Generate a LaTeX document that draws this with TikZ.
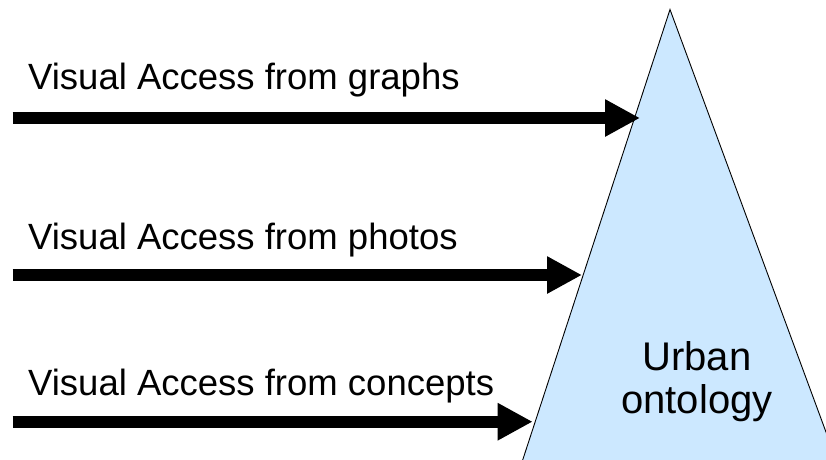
\documentclass[tikz,border=0pt]{standalone}
\usepackage{fontspec}
\setmainfont{Liberation Sans}
\usetikzlibrary{arrows.meta}
\definecolor{ontoblue}{RGB}{204,232,255}
\tikzset{
  lbl/.style={anchor=base west, inner sep=0pt, font=\fontsize{36.5}{43}\selectfont},
  bigarrow/.style={line width=12.3pt, -{Triangle[length=35pt,width=35pt]}, black},
  mountain/.style={fill=ontoblue, draw=black, line width=0.9pt, line join=miter}
}
\begin{document}
\begin{tikzpicture}[x=1pt,y=-1pt]
\useasboundingbox (0,0) rectangle (826,459);
\clip (0,0) rectangle (826,459);
\draw[mountain] (670,9.5) -- (840,470) -- (519.4,470) -- cycle;
\node[inner sep=0pt, align=center, font=\fontsize{40}{43}\selectfont, anchor=base] (onto) at (697,413) {Urban\\ontology};
\node[lbl] (t1) at (28,89) {Visual Access from graphs};
\node[lbl] (t2) at (28,249) {Visual Access from photos};
\node[lbl] (t3) at (28,395) {Visual Access from concepts};
\coordinate (s1) at (12.7,118);
\coordinate (e1) at (640,118);
\coordinate (s2) at (12.7,275);
\coordinate (e2) at (582,275);
\coordinate (s3) at (12.7,421.7);
\coordinate (e3) at (532.7,421.7);
\draw[bigarrow] (s1) -- (e1);
\draw[bigarrow] (s2) -- (e2);
\draw[bigarrow] (s3) -- (e3);
\end{tikzpicture}
\end{document}
